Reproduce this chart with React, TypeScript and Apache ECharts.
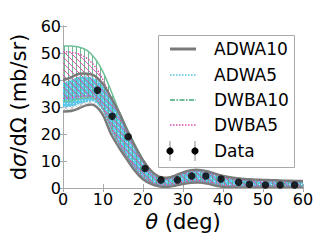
import React, { useEffect, useRef } from 'react';
import * as echarts from 'echarts';

const theta = [0, 2, 4, 6, 8, 10, 12, 14, 16, 18, 20, 22, 24, 26, 28, 30, 32, 34, 36, 38, 40, 42, 44, 46, 48, 50, 52, 54, 56, 58, 60];

const adwa10Upper = [40, 41, 42.3, 42.3, 41.5, 38.5, 33.5, 28, 21.5, 15.5, 10.3, 6.4, 4.2, 3.8, 4.6, 5.8, 6.6, 6.7, 6.2, 5.3, 4.5, 3.9, 3.5, 3.3, 3.1, 3.0, 2.9, 2.8, 2.7, 2.6, 2.6];
const adwa10Lower = [28.3, 28.5, 29.5, 30.7, 30.5, 27, 20, 15, 10.5, 6.3, 3.2, 1.5, 0.6, 0.4, 0.8, 1.5, 1.9, 2.0, 1.6, 0.9, 0.4, 0.2, 0.1, 0.1, 0.1, 0.1, 0.1, 0.1, 0.1, 0.1, 0.1];

const adwa5Upper = [38.8, 39.8, 41, 41, 40.3, 37.5, 32.5, 27, 20.8, 15, 9.8, 6.0, 3.9, 3.5, 4.3, 5.5, 6.3, 6.4, 5.9, 5.0, 4.2, 3.6, 3.2, 3.0, 2.8, 2.7, 2.6, 2.5, 2.4, 2.3, 2.3];
const adwa5Lower = [30, 30.3, 31.2, 32, 32, 28.5, 21.5, 16, 11.2, 7, 3.8, 2.0, 1.0, 0.8, 1.2, 1.9, 2.3, 2.4, 2.0, 1.3, 0.8, 0.5, 0.4, 0.4, 0.4, 0.4, 0.4, 0.4, 0.4, 0.4, 0.4];

const dwba10Upper = [52.6, 52.6, 52.2, 51, 48, 43, 36, 28.5, 22, 16, 10.5, 6.5, 4.2, 3.8, 4.6, 5.8, 6.6, 6.7, 6.2, 5.3, 4.5, 3.9, 3.5, 3.3, 3.1, 3.0, 2.9, 2.8, 2.7, 2.6, 2.6];
const dwba10Lower = [32, 32.3, 33, 33.5, 33, 29.5, 22.5, 16.5, 11.5, 7.2, 4.0, 2.1, 1.1, 0.9, 1.3, 2.0, 2.4, 2.5, 2.1, 1.4, 0.9, 0.6, 0.5, 0.5, 0.5, 0.5, 0.5, 0.5, 0.5, 0.5, 0.5];

const dwba5Upper = [50.5, 50.3, 49.6, 48, 45, 40, 33.5, 27, 20.5, 14.8, 9.6, 5.8, 3.7, 3.3, 4.1, 5.3, 6.1, 6.2, 5.7, 4.8, 4.0, 3.4, 3.0, 2.8, 2.6, 2.5, 2.4, 2.3, 2.2, 2.1, 2.1];
const dwba5Lower = [33.2, 33.4, 33.8, 34, 33.3, 29.5, 22.5, 16.8, 11.8, 7.4, 4.2, 2.3, 1.3, 1.1, 1.5, 2.2, 2.6, 2.7, 2.3, 1.6, 1.1, 0.8, 0.7, 0.7, 0.7, 0.7, 0.7, 0.7, 0.7, 0.7, 0.7];

const dataTheta = [8.6, 12.3, 16.3, 20.5, 24.5, 28.6, 32.2, 35.7, 39.5, 43.9, 46.6, 50.6, 54.3, 57.9];
const dataValue = [36.2, 26.6, 19.0, 7.2, 3.0, 3.0, 4.4, 4.4, 3.3, 2.1, 1.4, 1.1, 1.1, 1.1];
const dataError = [1.8, 1.3, 1.0, 0.5, 0.3, 0.3, 0.3, 0.3, 0.3, 0.2, 0.2, 0.2, 0.2, 0.2];

const xTicks = { min: 0, max: 60, interval: 10 };
const yTicks = { min: 0, max: 60, interval: 10 };

const legendNames = ['ADWA10', 'ADWA5', 'DWBA10', 'DWBA5', 'Data'];

const FONT = 'DejaVu Sans';
const GRAY = '#7a7a7a';
const CYAN = '#4fc3e6';
const GREEN = '#6dbf95';
const MAGENTA = '#dd4fb0';
const FRAME = '#aaaaaa';

function makePattern(w: number, h: number, draw: (ctx: CanvasRenderingContext2D) => void) {
  const c = document.createElement('canvas');
  c.width = w;
  c.height = h;
  const ctx = c.getContext('2d') as CanvasRenderingContext2D;
  draw(ctx);
  return { image: c, repeat: 'repeat', imageWidth: w, imageHeight: h } as any;
}

// Smooth SVG path (Catmull-Rom -> cubic Bezier) through pixel points
function smoothPath(pts: number[][], start: boolean): string {
  let d = (start ? 'M' : 'L') + pts[0][0].toFixed(2) + ' ' + pts[0][1].toFixed(2);
  for (let i = 0; i < pts.length - 1; i++) {
    const p0 = pts[Math.max(0, i - 1)];
    const p1 = pts[i];
    const p2 = pts[i + 1];
    const p3 = pts[Math.min(pts.length - 1, i + 2)];
    const c1x = p1[0] + (p2[0] - p0[0]) / 6;
    const c1y = p1[1] + (p2[1] - p0[1]) / 6;
    const c2x = p2[0] - (p3[0] - p1[0]) / 6;
    const c2y = p2[1] - (p3[1] - p1[1]) / 6;
    d += ' C' + c1x.toFixed(2) + ' ' + c1y.toFixed(2) + ' ' + c2x.toFixed(2) + ' ' + c2y.toFixed(2) + ' ' + p2[0].toFixed(2) + ' ' + p2[1].toFixed(2);
  }
  return d;
}

export default function App() {
  const ref = useRef<HTMLDivElement>(null);

  useEffect(() => {
    document.body.style.margin = '0';
    if (!ref.current) return;
    const chart = echarts.init(ref.current, undefined, { renderer: 'svg' });

    const grayPat = makePattern(6, 6, (ctx) => {
      ctx.fillStyle = 'rgba(242,242,242,0.8)';
      ctx.fillRect(0, 0, 6, 6);
      ctx.fillStyle = 'rgba(170,170,170,0.55)';
      for (let i = 0; i < 6; i++) {
        ctx.fillRect(i, i, 1, 1);
        ctx.fillRect(5 - i, i, 1, 1);
      }
    });
    const cyanPat = makePattern(3, 3, (ctx) => {
      ctx.fillStyle = 'rgba(80,195,232,0.9)';
      ctx.fillRect(0, 0, 3, 3);
      ctx.fillStyle = 'rgba(190,235,250,0.95)';
      ctx.fillRect(1, 1, 1, 1);
    });
    const greenPat = makePattern(4, 4, (ctx) => {
      ctx.fillStyle = 'rgba(80,175,125,0.85)';
      ctx.fillRect(0, 0, 1, 4);
    });
    const magPat = makePattern(6, 6, (ctx) => {
      ctx.fillStyle = 'rgba(222,70,172,0.9)';
      for (let i = 0; i < 6; i++) ctx.fillRect(i, i, 1, 1);
    });

    const toPts = (api: any, arr: number[]) => theta.map((t, i) => api.coord([t, arr[i]]));

    const bandFill = (up: number[], lo: number[], pat: any, z: number) => ({
      type: 'custom', z, silent: true, clip: true,
      data: [[0, 0]], encode: { x: 0, y: 1 },
      renderItem: (params: any, api: any) => {
        const u = toPts(api, up);
        const l = toPts(api, lo).reverse();
        const d = smoothPath(u, true) + ' ' + smoothPath(l, false) + ' Z';
        return { type: 'path', shape: { pathData: d }, style: { fill: pat, stroke: null } };
      },
    });

    const edge = (arr: number[], color: string, width: number, dash: number[] | null, z: number) => ({
      type: 'custom', z, silent: true, clip: true,
      data: [[0, 0]], encode: { x: 0, y: 1 },
      renderItem: (params: any, api: any) => {
        const d = smoothPath(toPts(api, arr), true);
        return {
          type: 'path', shape: { pathData: d },
          style: { fill: null, stroke: color, lineWidth: width, lineDash: dash || undefined, lineJoin: 'round' },
        };
      },
    });

    const legendY = [49, 75, 100, 125, 151];
    const lx1 = 170;
    const lx2 = 196;
    const tx = 214;
    const g: any[] = [
      {
        type: 'rect', z: 100, shape: { x: 158.5, y: 35.5, width: 136, height: 132 },
        style: { fill: '#ffffff', stroke: FRAME, lineWidth: 1 },
      },
      { type: 'line', z: 101, shape: { x1: lx1, y1: legendY[0], x2: lx2, y2: legendY[0] }, style: { stroke: GRAY, lineWidth: 3 } },
      { type: 'line', z: 101, shape: { x1: lx1, y1: legendY[1], x2: lx2, y2: legendY[1] }, style: { stroke: CYAN, lineWidth: 1.5, lineDash: [1.5, 1.5] } },
      { type: 'line', z: 101, shape: { x1: lx1, y1: legendY[2], x2: lx2, y2: legendY[2] }, style: { stroke: GREEN, lineWidth: 2, lineDash: [5, 1.5, 1.5, 1.5] } },
      { type: 'line', z: 101, shape: { x1: lx1, y1: legendY[3], x2: lx2, y2: legendY[3] }, style: { stroke: MAGENTA, lineWidth: 1.5, lineDash: [1.5, 1.5] } },
      { type: 'line', z: 101, shape: { x1: 170, y1: 141, x2: 170, y2: 161 }, style: { stroke: '#888', lineWidth: 1 } },
      { type: 'line', z: 101, shape: { x1: 195, y1: 141, x2: 195, y2: 161 }, style: { stroke: '#888', lineWidth: 1 } },
      { type: 'circle', z: 102, shape: { cx: 170, cy: legendY[4], r: 3.6 }, style: { fill: '#000' } },
      { type: 'circle', z: 102, shape: { cx: 195, cy: legendY[4], r: 3.6 }, style: { fill: '#000' } },
    ];
    legendNames.forEach((n, i) => {
      g.push({
        type: 'text', z: 102, x: tx, y: legendY[i],
        style: { text: n, fontSize: 17, fontFamily: FONT, fill: '#000', verticalAlign: 'middle', align: 'left' },
      });
    });

    const axisCommon = {
      type: 'value',
      axisLine: { show: true, lineStyle: { color: FRAME, width: 1 } },
      axisTick: { show: true, inside: true, length: 4, lineStyle: { color: FRAME } },
      splitLine: { show: false },
    };

    const option: any = {
      animation: false,
      textStyle: { fontFamily: FONT },
      grid: { left: 63, top: 26, right: 29, bottom: 61, containLabel: false },
      xAxis: [
        {
          ...axisCommon, position: 'bottom', ...xTicks,
          axisLabel: { fontSize: 16, color: '#000', fontFamily: FONT, margin: 3 },
          name: '{it|θ} (deg)', nameLocation: 'middle', nameGap: 14,
          nameTextStyle: { fontSize: 21, color: '#000', fontFamily: FONT, rich: { it: { fontSize: 21, fontStyle: 'italic', fontFamily: FONT, color: '#000' } } },
        },
        { ...axisCommon, position: 'top', ...xTicks, axisLabel: { show: false } },
      ],
      yAxis: [
        {
          ...axisCommon, position: 'left', ...yTicks,
          axisLabel: { fontSize: 16, color: '#000', fontFamily: FONT, margin: 2 },
          name: 'd{it|σ}/dΩ (mb/sr)', nameLocation: 'middle', nameGap: 22, nameRotate: 90,
          nameTextStyle: { fontSize: 21, color: '#000', fontFamily: FONT, rich: { it: { fontSize: 21, fontStyle: 'italic', fontFamily: FONT, color: '#000' } } },
        },
        { ...axisCommon, position: 'right', ...yTicks, axisLabel: { show: false } },
      ],
      graphic: g,
      series: [
        bandFill(adwa10Upper, adwa10Lower, grayPat, 2),
        bandFill(adwa5Upper, adwa5Lower, cyanPat, 3),
        bandFill(dwba10Upper, dwba10Lower, greenPat, 4),
        bandFill(dwba5Upper, dwba5Lower, magPat, 5),
        edge(dwba10Upper, GREEN, 1.5, null, 6),
        edge(dwba10Lower, GREEN, 1.2, null, 6),
        edge(dwba5Upper, MAGENTA, 1.4, [1.5, 1.5], 7),
        edge(dwba5Lower, MAGENTA, 1.4, [1.5, 1.5], 7),
        edge(adwa5Upper, CYAN, 1.2, [1.5, 1.5], 7),
        edge(adwa5Lower, CYAN, 1.2, [1.5, 1.5], 7),
        edge(adwa10Upper, GRAY, 2.4, null, 8),
        edge(adwa10Lower, GRAY, 2.4, null, 8),
        {
          type: 'custom', name: 'Data errors', z: 9, silent: true,
          data: dataTheta.map((t, i) => [t, dataValue[i] - dataError[i], dataValue[i] + dataError[i]]),
          encode: { x: 0, y: [1, 2] },
          renderItem: (params: any, api: any) => {
            const x = api.value(0);
            const p1 = api.coord([x, api.value(1)]);
            const p2 = api.coord([x, api.value(2)]);
            return { type: 'line', shape: { x1: p1[0], y1: p1[1], x2: p2[0], y2: p2[1] }, style: { stroke: '#888', lineWidth: 1 } };
          },
        },
        {
          type: 'scatter', name: 'Data', z: 10, symbolSize: 7.5, silent: true,
          data: dataTheta.map((t, i) => [t, dataValue[i]]),
          itemStyle: { color: '#000' },
        },
      ],
    };

    chart.setOption(option);
    return () => chart.dispose();
  }, []);

  return <div ref={ref} style={{ width: 332, height: 249 }} />;
}
